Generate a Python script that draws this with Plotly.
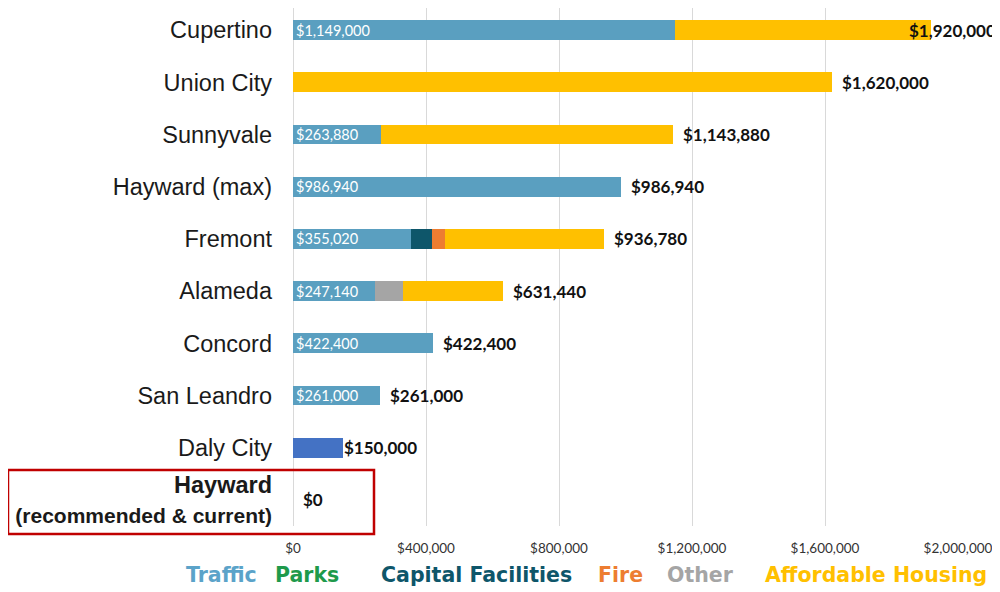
import plotly.graph_objects as go

cities = ["Cupertino", "Union City", "Sunnyvale", "Hayward (max)", "Fremont",
          "Alameda", "Concord", "San Leandro", "Daly City", "Hayward"]
city_labels = ["Cupertino", "Union City", "Sunnyvale", "Hayward (max)", "Fremont",
               "Alameda", "Concord", "San Leandro", "Daly City",
               "<b><span style='font-size:23.5px'>Hayward</span></b><br><b><span style='font-size:21px'>(recommended &amp; current)</span></b>"]

traffic = [1149000, 0, 263880, 986940, 355020, 247140, 422400, 261000, 0, 0]
parks = [0, 0, 0, 0, 0, 0, 0, 0, 0, 0]
capital = [0, 0, 0, 0, 64000, 0, 0, 0, 0, 0]
fire = [0, 0, 0, 0, 38000, 0, 0, 0, 0, 0]
other = [0, 0, 0, 0, 0, 84600, 0, 0, 0, 0]
housing = [771000, 1620000, 880000, 0, 479760, 299700, 0, 0, 0, 0]
unspecified = [0, 0, 0, 0, 0, 0, 0, 0, 150000, 0]

x_ticks = [0, 400000, 800000, 1200000, 1600000, 2000000]

series = [
    ("Traffic", traffic, "#5A9FC0"),
    ("Parks", parks, "#1E9A4B"),
    ("Capital Facilities", capital, "#0E566A"),
    ("Fire", fire, "#ED7D31"),
    ("Other", other, "#A5A5A5"),
    ("Affordable Housing", housing, "#FFC000"),
]

totals = [sum(v) for v in zip(traffic, parks, capital, fire, other, housing, unspecified)]

# page has an 8px body margin; figure is sized to fit the window
W, H = 992, 584
L, R, T, B = 285, 42, 0, 66
PH = H - T - B  # plot height in px
PW = W - L - R


def px_x(sx):  # screen x -> paper
    return (sx - 8 - L) / PW


def px_y(sy):  # screen y -> paper
    return (H - B - (sy - 8)) / PH


fig = go.Figure()
for name, vals, color in series:
    kw = {}
    if name == "Traffic":
        kw = dict(text=[f"${v:,.0f}" if v > 0 else "" for v in vals],
                  textposition="inside", insidetextanchor="start",
                  textfont=dict(color="white", size=14.5, family="Lato"),
                  constraintext="none", textangle=0)
    fig.add_trace(go.Bar(y=cities, x=vals, orientation="h", name=name,
                         marker=dict(color=color, line=dict(width=0)),
                         width=0.38, showlegend=False, **kw))
fig.add_trace(go.Bar(y=cities, x=unspecified, orientation="h", name="Fee",
                     marker=dict(color="#4472C4", line=dict(width=0)),
                     width=0.38, showlegend=False))

annotations = []
for c, t in zip(cities, totals):
    shift = 8
    if t > 1800000:
        shift = -24
    elif t < 200000 and t > 0:
        shift = -1
    annotations.append(dict(x=t, y=c, xref="x", yref="y", text=f"<b>${t:,.0f}</b>",
                            xanchor="left", yanchor="middle", xshift=shift, showarrow=False,
                            font=dict(size=17, color="#111111", family="Lato")))

legend_names = [s[0] for s in series]
legend_cols = ["#5BA3C9", "#1E9A4B", "#0E566A", "#ED7D31", "#A5A5A5", "#FFC000"]
for nm, xp, col in zip(legend_names, [221, 307, 476, 620, 700, 876], legend_cols):
    annotations.append(dict(x=px_x(xp), y=px_y(575), xref="paper", yref="paper",
                            text=f"<b>{nm}</b>", showarrow=False, xanchor="center",
                            yanchor="middle",
                            font=dict(size=20.5, color=col, family="DejaVu Sans")))

row_px = 52.2
y_top = -0.5 + (8 - 4) / row_px

fig.update_layout(
    barmode="stack",
    width=W, height=H,
    margin=dict(l=L, r=R, t=T, b=B, autoexpand=False),
    plot_bgcolor="white", paper_bgcolor="white",
    annotations=annotations,
    shapes=[dict(type="rect", xref="paper", yref="paper",
                 x0=px_x(8), x1=px_x(374),
                 y0=px_y(534), y1=px_y(470),
                 line=dict(color="#C00000", width=2.5), fillcolor="rgba(0,0,0,0)")],
    xaxis=dict(range=[0, 2000000], tickvals=x_ticks,
               ticktext=[f"${v:,.0f}" for v in x_ticks],
               showgrid=True, gridcolor="#D9D9D9", gridwidth=1,
               zeroline=True, zerolinecolor="#D9D9D9", zerolinewidth=1,
               tickfont=dict(size=13.5, color="#333333", family="Lato"),
               ticklabelstandoff=12, automargin=False),
    yaxis=dict(range=[9.5, y_top], tickvals=cities, ticktext=city_labels,
               tickfont=dict(size=23.5, color="#1a1a1a", family="Liberation Sans"),
               ticklabelstandoff=20, showgrid=False, automargin=False),
)

fig.write_html("out.html")
